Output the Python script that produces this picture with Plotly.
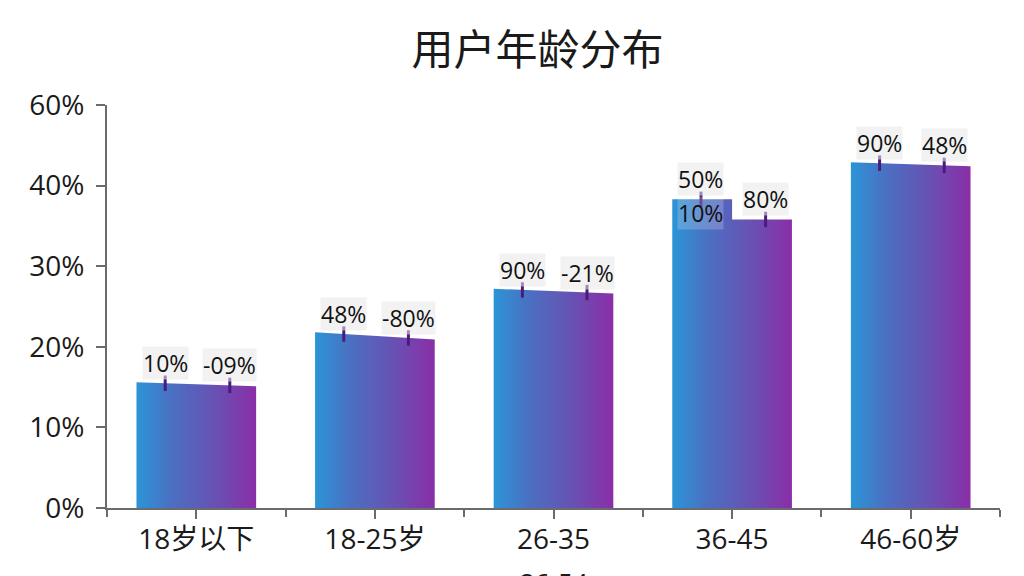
import plotly.graph_objects as go

# chart values
categories = ["18岁以下", "18-25岁", "26-35", "36-45", "46-60岁"]
left_vals = [15.6, 21.8, 27.2, 38.3, 42.9]    # height at left edge of bar (%)
right_vals = [15.1, 20.9, 26.6, 35.8, 42.4]   # height at right edge of bar (%)
top_kind = ["slope", "slope", "slope", "step", "slope"]
label_left = ["10%", "48%", "90%", "50%", "90%"]
label_right = ["-09%", "-80%", "-21%", "80%", "48%"]
inner_labels = {3: "10%"}
y_ticks = [0, 10, 20, 30, 40, 50]
y_tick_text = ["0%", "10%", "20%", "30%", "40%", "60%"]
extra_label = "26-54"

BAR_W = 0.67
MARK_POS = (0.24, 0.78)
FONT = "Open Sans, Noto Sans CJK SC, sans-serif"
GRAD = [[0, "#2b95d6"], [0.3, "#4b6fc2"], [0.65, "#6752b3"], [1, "#8a2ea7"]]


def top_at(i, frac):
    if top_kind[i] == "step":
        return left_vals[i] if frac < 0.5 else right_vals[i]
    return left_vals[i] + (right_vals[i] - left_vals[i]) * frac


fig = go.Figure()

for i, cat in enumerate(categories):
    x0, x1 = i - BAR_W / 2, i + BAR_W / 2
    if top_kind[i] == "step":
        xm = i
        xs = [x0, x0, xm, xm, x1, x1, x0]
        ys = [0, left_vals[i], left_vals[i], right_vals[i], right_vals[i], 0, 0]
    else:
        xs = [x0, x0, x1, x1, x0]
        ys = [0, left_vals[i], right_vals[i], 0, 0]
    fig.add_trace(go.Scatter(
        x=xs, y=ys, mode="lines", fill="toself",
        line=dict(width=0, color="rgba(0,0,0,0)"),
        fillgradient=dict(type="horizontal", colorscale=GRAD),
        hoverinfo="skip", showlegend=False))

# small marks on bar tops + labels
mx, my = [], []
for i in range(len(categories)):
    for k, frac in enumerate(MARK_POS):
        x = i - BAR_W / 2 + BAR_W * frac
        y = top_at(i, frac)
        mx.append(x)
        my.append(y)
        txt = label_left[i] if k == 0 else label_right[i]
        fig.add_annotation(x=x, y=y, text=txt, showarrow=False,
                           yanchor="bottom", yshift=3,
                           font=dict(size=23, color="#111111", family=FONT),
                           bgcolor="rgba(232,232,232,0.55)", borderpad=0)
    if i in inner_labels:
        x = i - BAR_W / 2 + BAR_W * MARK_POS[0]
        fig.add_annotation(x=x, y=right_vals[i], text=inner_labels[i],
                           showarrow=False, yanchor="middle", yshift=6,
                           font=dict(size=23, color="#111111", family=FONT),
                           bgcolor="rgba(255,255,255,0.2)", borderpad=0)

fig.add_trace(go.Scatter(
    x=mx, y=my, mode="markers",
    marker=dict(symbol="line-ns", size=11, line=dict(width=3, color="#4b1b7c")),
    hoverinfo="skip", showlegend=False))

fig.add_annotation(x=2, y=-0.135, xref="x", yref="paper", text=extra_label,
                   showarrow=False, yanchor="top",
                   font=dict(size=26, color="#1a1a1a", family=FONT))

fig.update_layout(
    width=1024, height=576,
    paper_bgcolor="white", plot_bgcolor="white",
    margin=dict(l=107, r=24, t=105, b=68),
    title=dict(text="用户年龄分布", x=0.525, xanchor="center", y=0.913, yanchor="middle",
               font=dict(size=42, color="#1a1a1a", family="Noto Sans CJK SC, sans-serif")),
    xaxis=dict(range=[-0.5, 4.5], tickvals=list(range(len(categories))),
               ticktext=categories, showgrid=False, zeroline=False,
               showline=True, linecolor="#6b6b6b", linewidth=2,
               ticks="outside", ticklen=9, tickwidth=2, tickcolor="#6b6b6b",
               ticklabelstandoff=-4,
               minor=dict(ticks="outside", tick0=-0.5, dtick=1, ticklen=7,
                          tickwidth=2, tickcolor="#6b6b6b", showgrid=False),
               tickfont=dict(size=28, color="#1a1a1a", family=FONT)),
    yaxis=dict(range=[0, 50], tickvals=y_ticks, ticktext=y_tick_text,
               showgrid=False, zeroline=False,
               showline=True, linecolor="#6b6b6b", linewidth=2,
               ticks="outside", ticklen=9, tickwidth=2, tickcolor="#6b6b6b",
               ticklabelstandoff=6,
               tickfont=dict(size=28, color="#1a1a1a", family=FONT)),
)

fig.write_html("out.html", config={"displayModeBar": False},
               post_script="document.body.style.margin='0';")
